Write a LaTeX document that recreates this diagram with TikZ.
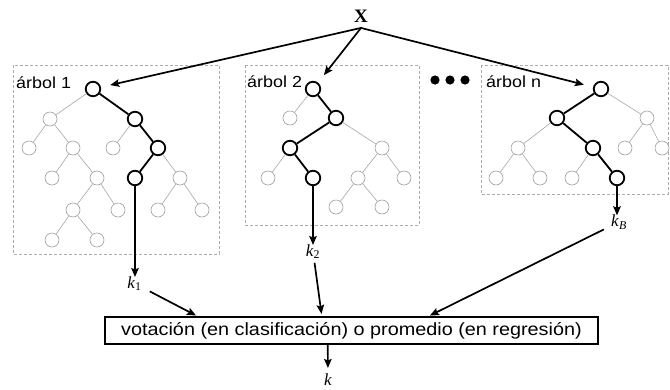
\documentclass[tikz,border=0pt]{standalone}
\usepackage{fontspec}
\setmainfont{Liberation Serif}
\newfontfamily\labelsans[FakeStretch=1.12]{Liberation Sans}
\usetikzlibrary{arrows.meta,calc}

\tikzset{
  offnode/.style={circle, draw=gray!75, line width=0.6pt, fill=white, minimum size=14pt, inner sep=0pt},
  onnode/.style={circle, draw=black, line width=1.8pt, fill=white, minimum size=14.5pt, inner sep=0pt},
  offedge/.style={draw=gray!70, line width=0.6pt},
  onedge/.style={draw=black, line width=1.8pt},
  treeframe/.style={draw=gray!65, dash pattern=on 3pt off 2pt, line width=0.6pt},
  arr/.style={-{Stealth[length=9pt,width=7.5pt,inset=1.5pt]}, line width=1.7pt},
  treelabel/.style={font=\labelsans\fontsize{16}{18}\selectfont, anchor=base west, inner sep=0pt},
  klabel/.style={font=\fontsize{17}{19}\selectfont, anchor=base, inner sep=0pt},
}

\begin{document}
\begin{tikzpicture}[x=1pt,y=-1pt]
\useasboundingbox (0,0) rectangle (670,389);

% dashed frames around the three trees
\draw[treeframe] (13,65) rectangle (219,254);
\draw[treeframe] (245,65) rectangle (419,225);
\draw[treeframe] (481,65) rectangle (668,194);

% tree labels
\node[treelabel] (lab1) at (16,88) {árbol 1};
\node[treelabel] (lab2) at (247,87) {árbol 2};
\node[treelabel] (labn) at (486,87) {árbol n};

% dots between tree 2 and tree n
\fill (435,80) circle (4.6pt);
\fill (450,80) circle (4.6pt);
\fill (465,80) circle (4.6pt);

% ---------- tree 1 ----------
\node[onnode]  (A0) at (93,89) {};
\node[offnode] (A1) at (50,119) {};
\node[onnode]  (A2) at (135,119) {};
\node[offnode] (A3) at (29,148) {};
\node[offnode] (A4) at (73,148) {};
\node[offnode] (A5) at (113,148) {};
\node[onnode]  (A6) at (158,148) {};
\node[offnode] (A7) at (52,178) {};
\node[offnode] (A8) at (97,178) {};
\node[onnode]  (A9) at (135,178) {};
\node[offnode] (A10) at (180,178) {};
\node[offnode] (A11) at (73,210) {};
\node[offnode] (A12) at (118,210) {};
\node[offnode] (A13) at (158,210) {};
\node[offnode] (A14) at (202,210) {};
\node[offnode] (A15) at (52,240) {};
\node[offnode] (A16) at (97,240) {};
\draw[offedge] (A0) -- (A1);
\draw[offedge] (A1) -- (A3);
\draw[offedge] (A1) -- (A4);
\draw[offedge] (A2) -- (A5);
\draw[offedge] (A4) -- (A7);
\draw[offedge] (A4) -- (A8);
\draw[offedge] (A6) -- (A10);
\draw[offedge] (A8) -- (A11);
\draw[offedge] (A8) -- (A12);
\draw[offedge] (A10) -- (A13);
\draw[offedge] (A10) -- (A14);
\draw[offedge] (A11) -- (A15);
\draw[offedge] (A11) -- (A16);
\draw[onedge] (A0) -- (A2);
\draw[onedge] (A2) -- (A6);
\draw[onedge] (A6) -- (A9);

% ---------- tree 2 ----------
\node[onnode]  (B0) at (313,89) {};
\node[offnode] (B1) at (290,118) {};
\node[onnode]  (B2) at (336,118) {};
\node[onnode]  (B3) at (290,148) {};
\node[offnode] (B4) at (382,148) {};
\node[offnode] (B5) at (268,178) {};
\node[onnode]  (B6) at (313,178) {};
\node[offnode] (B7) at (358,178) {};
\node[offnode] (B8) at (404,178) {};
\node[offnode] (B9) at (336,207) {};
\node[offnode] (B10) at (382,207) {};
\draw[offedge] (B0) -- (B1);
\draw[offedge] (B2) -- (B4);
\draw[offedge] (B3) -- (B5);
\draw[offedge] (B4) -- (B7);
\draw[offedge] (B4) -- (B8);
\draw[offedge] (B7) -- (B9);
\draw[offedge] (B7) -- (B10);
\draw[onedge] (B0) -- (B2);
\draw[onedge] (B2) -- (B3);
\draw[onedge] (B3) -- (B6);

% ---------- tree n ----------
\node[onnode]  (C0) at (601,89) {};
\node[onnode]  (C1) at (557,118) {};
\node[offnode] (C2) at (647,118) {};
\node[offnode] (C3) at (518,148) {};
\node[onnode]  (C4) at (593,148) {};
\node[offnode] (C5) at (625,148) {};
\node[offnode] (C6) at (662,148) {};
\node[offnode] (C7) at (496,178) {};
\node[offnode] (C8) at (540,178) {};
\node[offnode] (C9) at (572,178) {};
\node[onnode]  (C10) at (617,178) {};
\draw[offedge] (C0) -- (C2);
\draw[offedge] (C1) -- (C3);
\draw[offedge] (C2) -- (C5);
\draw[offedge] (C2) -- (C6);
\draw[offedge] (C3) -- (C7);
\draw[offedge] (C3) -- (C8);
\draw[offedge] (C4) -- (C9);
\draw[onedge] (C0) -- (C1);
\draw[onedge] (C1) -- (C4);
\draw[onedge] (C4) -- (C10);

% ---------- input X ----------
\node[font=\fontsize{19}{21}\selectfont\bfseries, inner sep=0pt] (X) at (361,16) {X};
\coordinate (Xfoot) at ([yshift=-5.5pt]X.south);
\draw[arr, shorten >=9.5pt] (Xfoot) -- (A0);
\draw[arr, shorten >=9.5pt] (Xfoot) -- (B0);
\draw[arr, shorten >=9.5pt] (Xfoot) -- (C0);

% ---------- tree outputs ----------
\node[klabel] (k1) at (134.5,288) {\textit{k}\textsubscript{1}};
\node[klabel] (k2) at (313,256) {\textit{k}\textsubscript{2}};
\node[klabel] (kB) at (619,226.5) {\textit{k}\textsubscript{\textit{B}}};
\draw[arr, shorten >=6.4pt] (A9) -- (A9 |- k1.center);
\draw[arr, shorten >=6.4pt] (B6) -- (B6 |- k2.center);
\draw[arr, shorten >=6.6pt] (C10) -- (C10 |- kB.center);

% ---------- aggregation ----------
\node[draw, line width=1.1pt, minimum width=493pt, minimum height=27pt, inner sep=0pt,
      font=\labelsans\fontsize{17.7}{20}\selectfont] (box) at (351.5,330.5)
      {votación (en clasificación) o promedio (en regresión)};
\draw[arr, shorten <=9pt, shorten >=2pt] (k1) -- ($(box.north west)!0.189!(box.north east)$);
\draw[arr, shorten <=4pt, shorten >=2.5pt] (k2) -- ($(box.north west)!0.44!(box.north east)$);
\draw[arr, shorten <=8pt, shorten >=2pt] (kB) -- ($(box.north west)!0.655!(box.north east)$);

\node[klabel] (k) at (328,385) {\textit{k}};
\draw[arr, shorten >=5pt] ($(box.south west)!0.452!(box.south east)$) -- (k);
\end{tikzpicture}
\end{document}
